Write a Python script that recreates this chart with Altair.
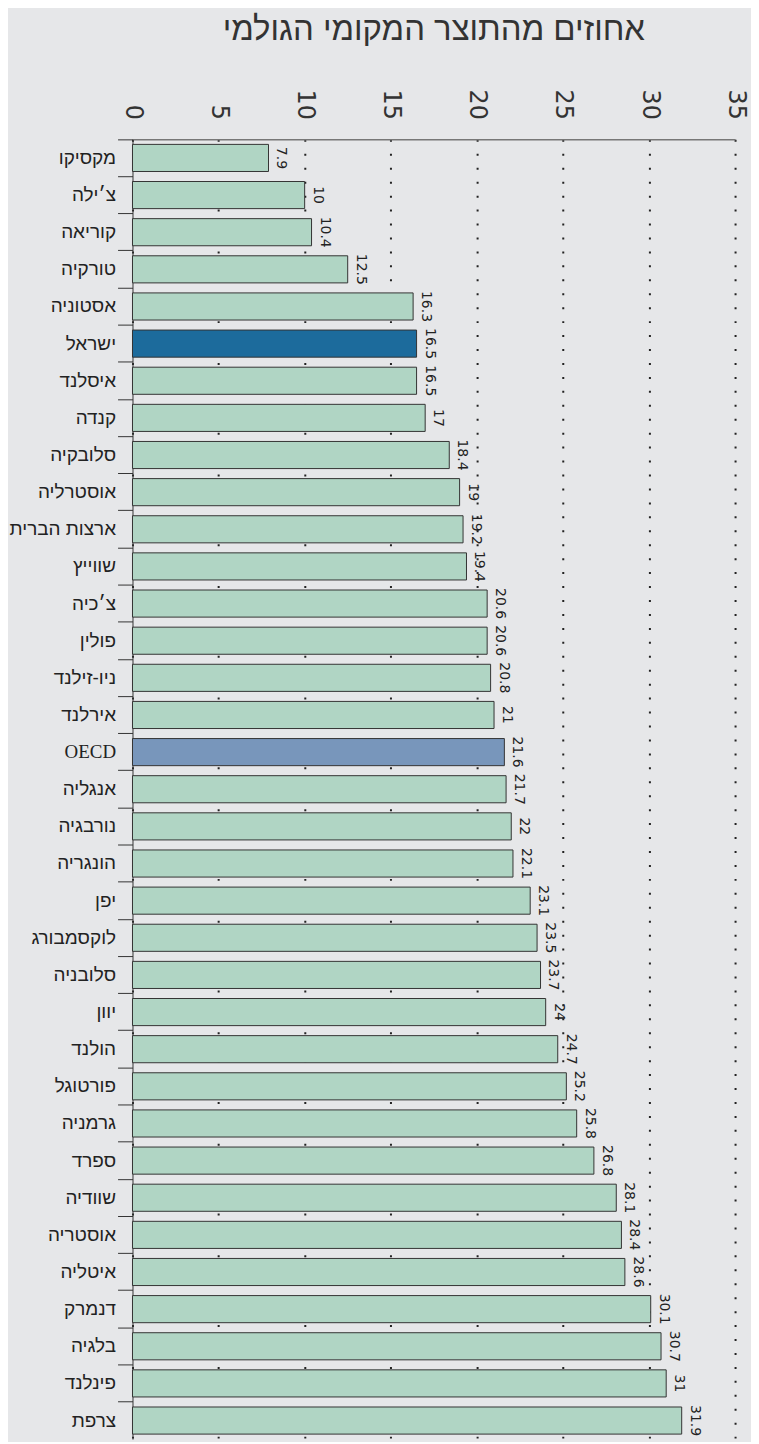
import altair as alt
import pandas as pd

countries = ["מקסיקו", "צ׳ילה", "קוריאה", "טורקיה", "אסטוניה", "ישראל", "איסלנד", "קנדה",
             "סלובקיה", "אוסטרליה", "ארצות הברית", "שווייץ", "צ׳כיה", "פולין", "ניו-זילנד",
             "אירלנד", "OECD", "אנגליה", "נורבגיה", "הונגריה", "יפן", "לוקסמבורג", "סלובניה",
             "יוון", "הולנד", "פורטוגל", "גרמניה", "ספרד", "שוודיה", "אוסטריה", "איטליה",
             "דנמרק", "בלגיה", "פינלנד", "צרפת"]
values = [7.9, 10, 10.4, 12.5, 16.3, 16.5, 16.5, 17, 18.4, 19, 19.2, 19.4, 20.6, 20.6, 20.8,
          21, 21.6, 21.7, 22, 22.1, 23.1, 23.5, 23.7, 24, 24.7, 25.2, 25.8, 26.8, 28.1, 28.4,
          28.6, 30.1, 30.7, 31, 31.9]
value_labels = ["7.9", "10", "10.4", "12.5", "16.3", "16.5", "16.5", "17", "18.4", "19", "19.2",
                "19.4", "20.6", "20.6", "20.8", "21", "21.6", "21.7", "22", "22.1", "23.1",
                "23.5", "23.7", "24", "24.7", "25.2", "25.8", "26.8", "28.1", "28.4", "28.6",
                "30.1", "30.7", "31", "31.9"]
x_ticks = [0, 5, 10, 15, 20, 25, 30, 35]
groups_domain = ["other", "israel", "oecd"]
groups_colors = ["#b0d5c4", "#1c6b9c", "#7896bb"]

groups = ["israel" if c == "ישראל" else ("oecd" if c == "OECD" else "other") for c in countries]
df = pd.DataFrame({"country": countries, "value": values, "label": value_labels, "group": groups})

title_text = "אחוזים מהתוצר המקומי הגולמי"

y_enc = alt.Y(
    "country:N", sort=countries, title=None,
    scale=alt.Scale(paddingInner=0, paddingOuter=0),
    axis=alt.Axis(
        bandPosition=0, domainColor="#333333", domainWidth=1, tickColor="#333333",
        tickSize=15, tickWidth=1, labelPadding=2, labelFontSize=19, labelColor="#222222",
        labelFont={"condition": {"test": "datum.value == 'OECD'", "value": "Liberation Serif"},
                   "value": "Liberation Sans"},
        grid=False, labelLimit=200,
    ),
)
x_enc = alt.X(
    "value:Q", title=None,
    scale=alt.Scale(domain=[0, 35], nice=False, zero=True),
    axis=alt.Axis(
        orient="top", values=x_ticks, domainColor="#777777", domainWidth=1.5, ticks=False,
        labelAngle=90, labelAlign="right", labelBaseline="middle", labelFontSize=24,
        labelPadding=20, labelColor="#333333", labelFont="DejaVu Sans",
        grid=True, gridDash=[2, 12], gridColor="#222222", gridWidth=2,
    ),
)

bars = alt.Chart(df).mark_bar(stroke="#333333", strokeWidth=1, height={"band": 0.73}).encode(
    y=y_enc, x=x_enc,
    color=alt.Color("group:N", scale=alt.Scale(domain=groups_domain, range=groups_colors), legend=None),
)
labels = alt.Chart(df).mark_text(
    angle=90, align="center", baseline="bottom", dy=-6, fontSize=14, color="#222222",
    font="DejaVu Sans",
).encode(y=alt.Y("country:N", sort=countries), x=alt.X("value:Q"), text="label:N")

chart = (bars + labels).properties(
    width=605, height=1305,
    title=alt.TitleParams(title_text, anchor="middle", fontSize=33, fontWeight="normal",
                          color="#333333", font="Liberation Sans", offset=42),
    background="#e6e7e9",
    autosize=alt.AutoSizeParams(type="none"),
    padding={"left": 125, "top": 129, "right": 16, "bottom": 0},
).configure_view(stroke=None)

chart.save("out.html", embed_options={"renderer": "svg", "actions": False})
